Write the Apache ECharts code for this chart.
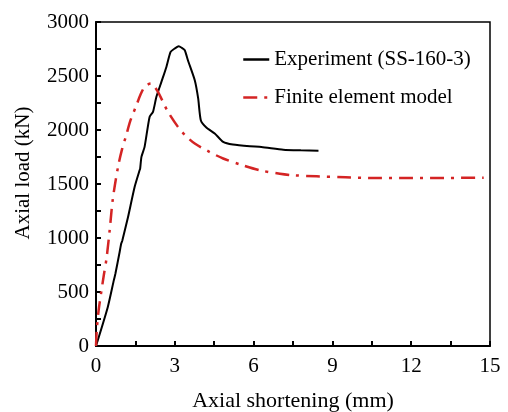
<!DOCTYPE html>
<html>
<head>
<meta charset="utf-8">
<script src="https://cdn.jsdelivr.net/npm/echarts@6/dist/echarts.min.js"></script>
<style>
  html, body { margin: 0; padding: 0; background: #fff; }
  #chart { width: 508px; height: 412px; }
</style>
</head>
<body>
<div id="chart"></div>
<script>
// Experiment (SS-160-3): [shortening mm, load kN]
const experiment = [
  [0, 0], [0.45, 362], [0.68, 610], [0.74, 671], [0.9, 870], [0.96, 949],
  [1.0, 975], [1.22, 1195], [1.47, 1473], [1.66, 1628], [1.68, 1640],
  [1.73, 1751], [1.85, 1844], [2.04, 2121], [2.17, 2168], [2.3, 2307], [2.49, 2445],
  [2.68, 2584], [2.84, 2723], [3.0, 2755], [3.15, 2776], [3.27, 2760], [3.38, 2739],
  [3.5, 2646], [3.76, 2461], [3.89, 2292], [3.99, 2091], [4.2, 2023], [4.52, 1968],
  [4.84, 1890], [5.21, 1865], [5.86, 1849], [6.3, 1843], [7.13, 1818], [7.8, 1812],
  [8.47, 1809]
];
// Finite element model
const femodel = [
  [0, 0], [0.03, 150], [0.1, 330], [0.2, 500], [0.3, 660], [0.4, 810], [0.52, 1070],
  [0.64, 1360], [0.84, 1660], [1.0, 1830], [1.15, 1950], [1.3, 2080], [1.54, 2230],
  [1.7, 2330], [1.85, 2400], [2.0, 2425], [2.1, 2430], [2.2, 2410], [2.36, 2353],
  [2.55, 2260], [2.74, 2168], [3.12, 2029], [3.4, 1950], [3.76, 1875], [4.3, 1800],
  [4.84, 1736], [5.5, 1680], [6.24, 1627], [7.0, 1595], [7.51, 1581], [8.4, 1571],
  [9.5, 1562], [10.7, 1555], [12, 1555], [13.24, 1556], [14.76, 1559]
];
const seriesNames = ['Experiment (SS-160-3)', 'Finite element model'];

const font = 'Liberation Serif';
let myChart = echarts.init(document.getElementById('chart'));

let option = {
  backgroundColor: '#fff',
  animation: false,
  textStyle: { fontFamily: font, color: '#000' },
  grid: {
    left: 96, right: 18, top: 22, bottom: 66,
    outerBoundsMode: 'none',
    show: true, borderColor: '#000', borderWidth: 1.5
  },
  legend: {
    orient: 'vertical',
    left: 237, top: 44,
    itemWidth: 26, itemHeight: 14, itemGap: 17,
    itemStyle: { opacity: 0 },
    lineStyle: { width: 2.5 },
    textStyle: { fontFamily: font, fontSize: 21, color: '#000' },
    data: seriesNames
  },
  xAxis: {
    type: 'value',
    min: 0, max: 15, interval: 3,
    name: 'Axial shortening (mm)',
    nameLocation: 'middle', nameGap: 44,
    nameTextStyle: { fontFamily: font, fontSize: 22, color: '#000' },
    axisLine: { lineStyle: { color: '#000', width: 2 } },
    axisTick: { inside: true, length: 5, lineStyle: { color: '#000', width: 2 } },
    minorTick: { show: true, splitNumber: 2, length: 5, lineStyle: { color: '#000', width: 2 } },
    axisLabel: { fontFamily: font, fontSize: 21, color: '#000', margin: 10, formatter: v => String(v) },
    splitLine: { show: false }
  },
  yAxis: {
    type: 'value',
    min: 0, max: 3000, interval: 500,
    name: 'Axial load (kN)',
    nameLocation: 'middle', nameGap: 62,
    nameTextStyle: { fontFamily: font, fontSize: 21, color: '#000', padding: [0, 0, 0, 22] },
    axisLine: { lineStyle: { color: '#000', width: 2 } },
    axisTick: { inside: true, length: 5, lineStyle: { color: '#000', width: 2 } },
    minorTick: { show: true, splitNumber: 2, length: 5, lineStyle: { color: '#000', width: 2 } },
    axisLabel: { fontFamily: font, fontSize: 21, color: '#000', margin: 7, formatter: v => String(v) },
    splitLine: { show: false }
  },
  series: [{
    name: seriesNames[0],
    type: 'line',
    showSymbol: false,
    symbol: 'none',
    smooth: 0.2,
    lineStyle: { color: '#000', width: 2 },
    itemStyle: { color: '#000' },
    data: experiment
  }, {
    name: seriesNames[1],
    type: 'line',
    showSymbol: false,
    symbol: 'none',
    smooth: 0.3,
    lineStyle: { color: '#d42424', width: 2.5, type: [14, 7, 3, 7] },
    itemStyle: { color: '#d42424' },
    data: femodel
  }]
};

myChart.setOption(option);
</script>
</body>
</html>
